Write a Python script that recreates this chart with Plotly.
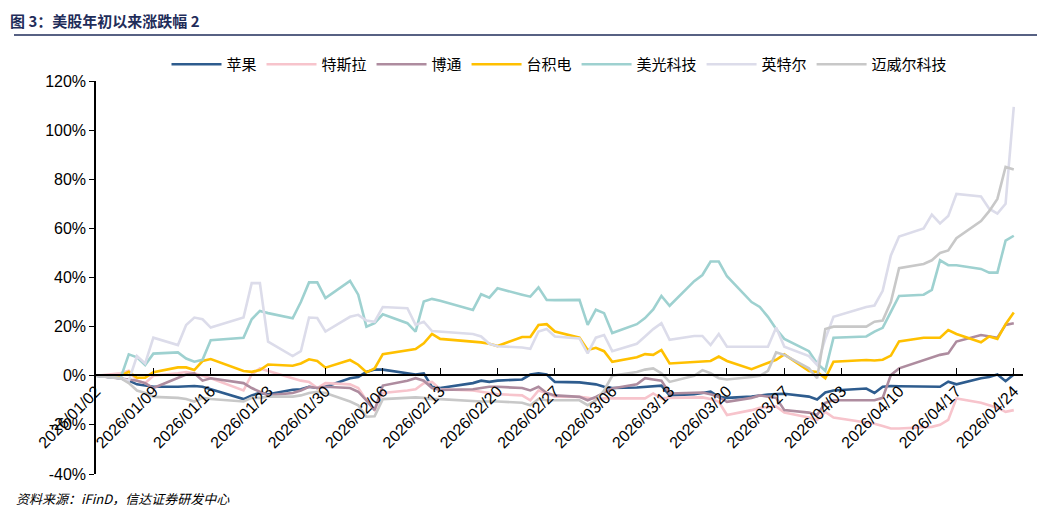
import pandas as pd
import plotly.graph_objects as go

holidays = ["2026-01-19", "2026-02-16", "2026-04-03"]
dates = [d for d in pd.bdate_range("2026-01-02", "2026-04-24").strftime("%Y-%m-%d") if d not in holidays]

apple = [0,-1,-2,-3.5,-4,-4.5, -4.5,-4.3,-4.2,-4.5,-5.5, -9.5,-8,-7,-7.5, -5.7,-5.5,-4.5,-5,-4.5,
         -1,-0.5,1.5,2.5,2.5, 1,0.5,1,-4.5,-5, -3,-2,-2.5,-2, -1.5,0.5,1,0.5,-2.5,
         -2.7,-3,-3.5,-4.5,-5, -4.8,-4.5,-4,-4,-8, -7.5,-7,-6.5,-8.6,-9, -8.5,-8,-7.6,-7.4,-7.3,
         -8.5,-9.7,-6.8,-6, -5.2,-7,-4.5,-4.2,-4.3, -4.5,-4.7,-4.5,-2.4,-3.5, -1,-0.5,0.5,-2.2,0.5]
tesla = [0,1,2,-2,-3,0, 1,1.5,1,0,-1, -6,0.5,3,2, -1,-2,-2.5,-5,-3,
         -3.5,-5,-10,-14,-7, -6,-5.5,-3,-2.5,-5.5, -6,-6.5,-7,-7.5, -8,-10,-6,-7,-8.5,
         -8.6,-9,-9.5,-9.2,-9.2, -9.2,-9.2,-7.2,-9.2,-9, -9,-8.8,-9.5,-10.6,-16, -14,-13,-12.7,-12.5,-15,
         -17,-18,-14.7,-17, -18.8,-19.5,-20.5,-21.5,-21.5, -21,-20.8,-20,-18,-9.2, -11,-12,-13,-14.7,-14]
broadcom = [0,-1,-1.5,-2,-3,-5, -1,0.5,1,-2,-1, -3,-5,-6.5,-8, -7,-6,-4.5,-5,-4.5,
            -5,-6.5,-10,-14,-4, -2,-1,-2,-5,-5.8, -5.5,-5,-4.5,-4.5, -5,-6,-4.5,-7,-8,
            -8.6,-10,-8.6,-7,-5.2, -3.5,-1,-1.5,-2,-7.2, -7,-6.8,-7.5,-8.6,-10.6, -9,-8,-8.5,-9,-14,
            -15,-16,-11,-10, -10,-10,-9,0.3,3, 6.4,7.5,8.5,9.1,13.9, 16.6,16,15.5,20.7,21.4]
tsmc = [0,0,1.6,-0.8,-0.8,1.4, 3.4,3.4,2.3,6,6.8, 1.9,1.6,2.3,4.6, 4.1,5,6.7,6,3.3,
        6.4,4.5,1.4,3,8.8, 10.2,10.9,13.2,17,15, 14,13.6,13,12.1, 15.8,15.8,20.7,21,18,
        15.5,10.5,11.4,10,5.7, 7.5,8.8,8.5,10.5,5, 5.5,5.8,6,7.8,6, 2.7,4,5,6.5,8.7,
        1.9,1.5,-1,5.7, 6.4,6.2,6.5,8.2,14, 15.5,15.5,15.5,18.6,17, 13.6,16,15,21,25.7]
micron = [0,-1,8.7,7.5,4.4,9, 9.5,7,5.7,6.5,14.5, 15.5,23,26.4,25.5, 23.4,30,38,38,31.6,
          38.6,33,20,21.4,25, 21.4,18,30.2,31.3,30.5, 26.8,33.2,31.8,35.6, 33,32.2,36,30.9,30.8,
          30.9,20.7,26.9,25.5,17.4, 21,23.5,27,32.5,28.5, 38.5,41,46.5,46.5,40.5, 30,28,24,19,15,
          10,5,2,15.5, 16,18,19.5,26,32.5, 33,35,47,45,45, 43.5,42,42,55,57]
intel = [0,-1,-2,8,5,15.5, 12.5,20.7,23.7,23,19.6, 23.7,37.7,37.7,13.9, 8,10,23.7,23.5,18,
         24,24.8,22.5,22,28, 27.5,20.7,22,18.2,18, 17,16,13,12, 11.5,11,18,19,16,
         15.2,9.1,15.5,16.6,10, 13,16,19,21.4,14.6, 16.2,16.2,12.5,17,11.8, 11.8,11.8,11.8,19.6,11.8,
         8,4.4,15,24, 28,28.6,34.6,49,56.7, 60,65.6,62,65,74, 73,68,66,70,109.5]
marvell = [0,-1,-3,-6,-7,-8.6, -9,-9.5,-10.5,-9,-9.5, -10.5,-9,-9,-8.5, -8.5,-8,-7,-6.5,-7,
           -10.5,-12,-16.7,-16.5,-9.5, -9,-8.8,-9,-9.5,-9.5, -10.5,-10.5,-10.5,-10.5, -11,-12,-9.5,-10,-10,
           -10,-12,-10,-6,0, 1.5,2.5,3,1,-2.5, 0,2.3,1,-1,-1.5, -0.5,0,2,9.5,8.5,
           3,-1,19,20, 20,22,22.5,30,43.8, 45.5,47,50,51,56, 63,67,72,85,84]

names = ["苹果", "特斯拉", "博通", "台积电", "美光科技", "英特尔", "迈威尔科技"]
series = [apple, tesla, broadcom, tsmc, micron, intel, marvell]
colors = ["#2E5C8E", "#F7C4CC", "#AE8C9F", "#FFC000", "#9ED1D0", "#DCDCEA", "#C8C8C8"]
ytick_vals = [-40, -20, 0, 20, 40, 60, 80, 100, 120]
ytick_text = [f"{v}%" for v in ytick_vals]

FONT = "Noto Sans CJK SC, Liberation Sans, Arial"
fig = go.Figure()
for n, s, c in zip(names, series, colors):
    fig.add_trace(go.Scatter(x=dates, y=s, name=n, mode="lines",
                             line=dict(color=c, width=2.6)))

fig.update_layout(
    width=1045, height=505,
    margin=dict(l=88, r=30, t=73, b=39, autoexpand=False),
    paper_bgcolor="white", plot_bgcolor="white",
    font=dict(family=FONT, size=15, color="black"),
    legend=dict(orientation="h", x=0.5, xanchor="center", y=1.0, yanchor="bottom",
                font=dict(size=15), itemwidth=50, traceorder="normal"),
    xaxis=dict(type="date", range=["2026-01-02", "2026-04-25 03:00"],
               tick0="2026-01-02", dtick=7 * 86400000, tickformat="%Y/%m/%d",
               tickangle=-45, ticks="inside", ticklen=6, tickcolor="black",
               showline=True, linecolor="black", linewidth=1.5, showgrid=False, automargin=False,
               anchor="free", position=0.252, tickfont=dict(size=16, family="Liberation Sans, Arial")),
    yaxis=dict(range=[-40, 120], tickvals=ytick_vals, ticktext=ytick_text, automargin=False,
               showline=True, linecolor="black", linewidth=1.5, ticks="outside",
               ticklen=5, tickcolor="black", showgrid=False, zeroline=False,
               tickfont=dict(size=16, family="Liberation Sans, Arial")),
    showlegend=True,
)
fig.add_annotation(text="<b>图 3：美股年初以来涨跌幅 2</b>", xref="paper", yref="paper",
                   x=-88/927, y=1 + 60/393, xanchor="left", yanchor="middle", showarrow=False,
                   font=dict(size=15, color="#1F2D5A", family=FONT))
fig.add_shape(type="line", xref="paper", yref="paper", x0=-82/927, x1=952/927,
              y0=1 + 46/393, y1=1 + 46/393, line=dict(color="#1F2D5A", width=1.5))
fig.add_annotation(text="<i>资料来源：iFinD，信达证券研发中心</i>", xref="paper", yref="paper",
                   x=-82/927, y=-24/393, xanchor="left", yanchor="middle", showarrow=False,
                   font=dict(size=13, color="black", family=FONT))
fig.write_html("out.html")
